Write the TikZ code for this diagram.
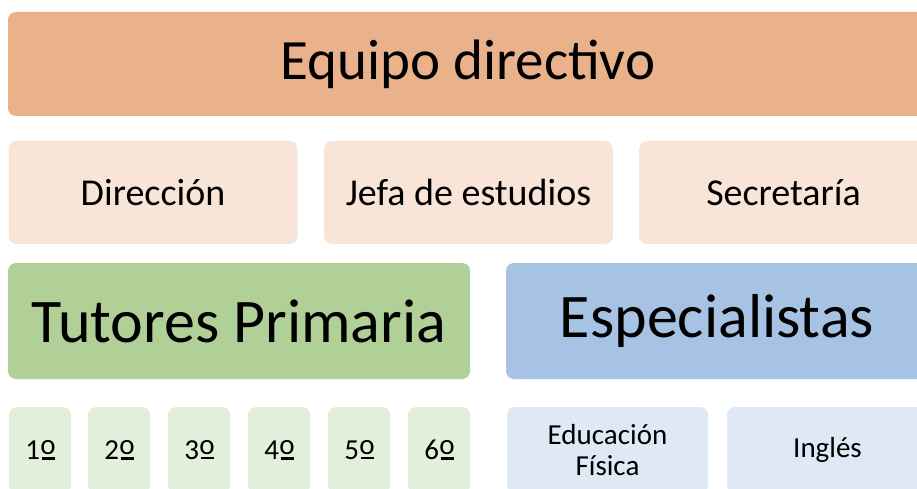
\documentclass[tikz,border=0pt]{standalone}
\usepackage{fontspec}
\setmainfont{Carlito}
\usepackage{xcolor}
\definecolor{equipo}{HTML}{E9B28B}
\definecolor{cargo}{HTML}{F8E5D8}
\definecolor{tutores}{HTML}{B1D097}
\definecolor{curso}{HTML}{E2EFDA}
\definecolor{espec}{HTML}{A7C3E3}
\definecolor{area}{HTML}{DFE8F5}
% underlined ordinal sign as in the original
\newcommand{\ordm}{\kern1.5pt\rlap{\rule{13pt}{2.2pt}}\hbox to 13pt{\hss\raisebox{5pt}{\fontsize{29}{29}\selectfont o}\hss}}

\begin{document}
\begin{tikzpicture}[x=1pt, y=-1pt,
    box/.style = {rectangle, rounded corners=8pt, inner sep=0pt, text=black},
    big/.style = {box, font=\fontsize{57}{62}\selectfont},
    mid/.style = {box, minimum height=103pt, minimum width=289pt, fill=cargo, font=\fontsize{38}{44}\selectfont},
    head/.style = {box, minimum height=116pt, font=\fontsize{62}{68}\selectfont},
    grade/.style = {box, minimum height=86pt, minimum width=62pt, fill=curso, font=\fontsize{29}{31}\selectfont},
    subj/.style = {box, minimum height=86pt, minimum width=201pt, fill=area, align=center, font=\fontsize{29}{31}\selectfont}]
      \clip (0,0) rectangle (917,489);
      \useasboundingbox (0,0) rectangle (917,489);

      \node[big, fill=equipo, minimum width=920pt, minimum height=104pt] (equipo) at (468,64) {Equipo directivo};

      \node[mid] (dir) at (153,192.5)   {Dirección};
      \node[mid] (jefa) at (468.5,192.5) {Jefa de estudios};
      \node[mid] (sec) at (783.5,192.5)  {Secretaría};

      \node[head, fill=tutores, minimum width=462pt] (tut) at (239,321)  {Tutores Primaria};
      \node[head, fill=espec, minimum width=422pt] (esp) at (717,321)    {Especialistas};

      \node[grade] (c1) at (40,450)  {1\ordm};
      \node[grade] (c2) at (119,450) {2\ordm};
      \node[grade] (c3) at (199,450) {3\ordm};
      \node[grade] (c4) at (279,450) {4\ordm};
      \node[grade] (c5) at (359,450) {5\ordm};
      \node[grade] (c6) at (439,450) {6\ordm};

      \node[subj] (ef) at (607.5,450)  {Educación\\Física};
      \node[subj] (ing) at (827.5,450) {Inglés};
    \end{tikzpicture}
\end{document}
